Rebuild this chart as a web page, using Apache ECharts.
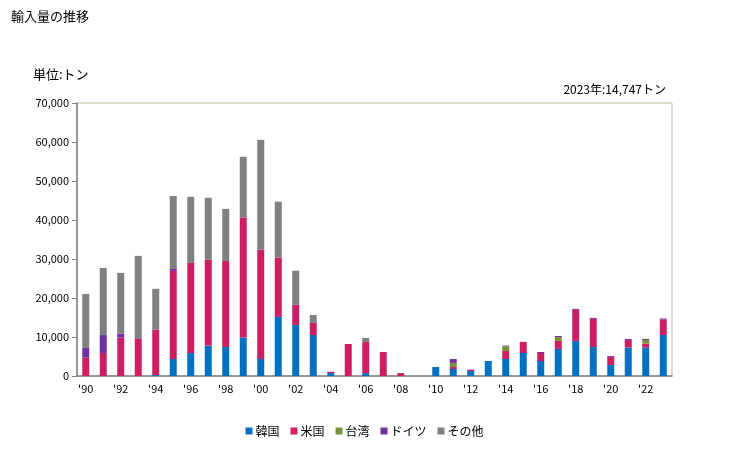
<!DOCTYPE html>
<html><head><meta charset="utf-8">
<script src="https://cdn.jsdelivr.net/npm/echarts@6/dist/echarts.min.js"></script>
<style>html,body{margin:0;padding:0;background:#fff}#c{width:729px;height:450px}</style>
</head><body><div id="c"></div>
<script>
const years = ['1990','1991','1992','1993','1994','1995','1996','1997','1998','1999','2000','2001','2002','2003','2004','2005','2006','2007','2008','2009','2010','2011','2012','2013','2014','2015','2016','2017','2018','2019','2020','2021','2022','2023'];
const korea  = [0,0,0,0,250,4350,5900,7800,7450,9850,4350,15150,13100,10500,750,0,750,0,0,0,2300,1800,1300,3850,4350,5900,3850,6950,9000,7450,2800,7300,7300,10500];
const usa    = [4700,5900,9850,9500,11650,22600,23100,22000,22050,30800,28050,15250,5150,3100,350,8200,7950,6150,750,0,0,500,350,0,2050,2850,2050,2050,7950,7200,2050,1950,1000,4000];
const taiwan = [0,0,0,0,0,0,0,0,0,0,0,0,0,0,0,0,0,0,0,0,0,1050,0,0,1200,0,0,1000,0,0,0,0,950,0];
const germany= [2500,4600,1000,0,0,500,0,0,0,0,0,0,0,0,0,0,0,0,0,0,0,1000,0,0,200,0,250,250,250,250,250,250,250,247];
const others = [13850,17200,15600,21300,10450,18700,16950,15900,13350,15550,28150,14300,8750,2050,0,0,1050,0,0,0,0,0,0,0,0,0,0,0,0,0,0,0,0,0];
const seriesNames = ['韓国','米国','台湾','ドイツ','その他'];
const colors = ['#0070C0','#CE1E62','#779339','#7030A0','#808080'];
const yTicks = [0,10000,20000,30000,40000,50000,60000,70000];

const chart = echarts.init(document.getElementById('c'));
const font = '"Noto Sans CJK JP", sans-serif';
const data = [korea, usa, taiwan, germany, others];
chart.setOption({
  animation:false,
  textStyle:{fontFamily:font},
  title:[
    {text:'輸入量の推移',left:6,top:5,textStyle:{fontSize:13,fontWeight:'normal',color:'#000',fontFamily:font}},
    {text:'単位:トン',left:28,top:63,textStyle:{fontSize:13,fontWeight:'normal',color:'#000',fontFamily:font}},
    {text:'2023年:14,747トン',right:58,top:78,textStyle:{fontSize:12,fontWeight:'normal',color:'#000',fontFamily:font}}
  ],
  grid:{left:77,right:57,top:103,bottom:74,show:true,borderColor:'#C4BC9E',borderWidth:1,backgroundColor:'transparent'},
  legend:{bottom:8,left:'center',itemWidth:7,itemHeight:7,itemGap:11,icon:'rect',
    textStyle:{fontSize:12,color:'#000',fontFamily:font,padding:[0,0,0,-2]},data:seriesNames},
  xAxis:{type:'category',data:years,
    axisLine:{lineStyle:{color:'#808080',width:1.5}},axisTick:{show:false},
    axisLabel:{interval:0,fontSize:11,color:'#000',margin:7,
      formatter:(v,i)=> (i%2===0)?"'"+v.slice(2):''}},
  yAxis:{type:'value',min:0,max:70000,interval:10000,
    axisLine:{show:true,lineStyle:{color:'#808080',width:1.5}},
    axisTick:{show:true,length:5,lineStyle:{color:'#808080'}},
    splitLine:{show:false},
    axisLabel:{fontSize:11,color:'#000',margin:8,formatter:v=>yTicks.includes(v)?v.toLocaleString('en-US'):''}},
  series: seriesNames.map((n,i)=>({name:n,type:'bar',stack:'t',barWidth:7,
    itemStyle:{color:colors[i]},data:data[i]}))
});
</script></body></html>
